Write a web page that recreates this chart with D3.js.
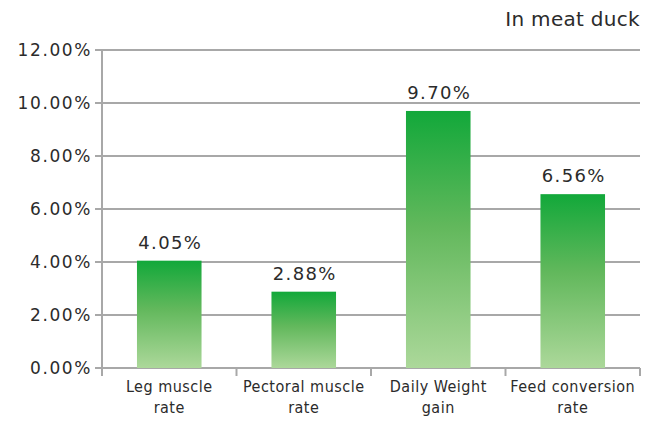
<!DOCTYPE html>
<html>
<head>
<meta charset="utf-8">
<script src="https://cdn.jsdelivr.net/npm/d3@7"></script>
<style>
    body { margin: 0; background: #fff; }
    .grid line { stroke: #a8a8a8; stroke-width: 2; }
    .tick-label { font-family: "DejaVu Sans", sans-serif; font-size: 17px; fill: #2b2b2b; letter-spacing: 1.6px; }
    .value-label { font-family: "DejaVu Sans", sans-serif; font-size: 18px; fill: #2b2b2b; letter-spacing: 1.4px; }
    .cat-label { font-family: "DejaVu Sans Condensed", "DejaVu Sans", sans-serif; font-size: 16px; fill: #2b2b2b; letter-spacing: 0.5px; }
    .title { font-family: "DejaVu Sans", sans-serif; font-size: 20px; fill: #2b2b2b; letter-spacing: 0.3px; }
</style>
</head>
<body>
<div id="chart"></div>
<script>
var categories = [["Leg muscle", "rate"], ["Pectoral muscle", "rate"], ["Daily Weight", "gain"], ["Feed conversion", "rate"]];
var values = [4.05, 2.88, 9.70, 6.56];
var yTicks = [0, 2, 4, 6, 8, 10, 12];

var width = 653, height = 421;
var margin = {top: 50, right: 13, bottom: 53, left: 102};
var w = width - margin.left - margin.right,
    h = height - margin.top - margin.bottom;

var svg = d3.select("#chart").append("svg")
    .attr("width", width)
    .attr("height", height);

var defs = svg.append("defs");
var grad = defs.append("linearGradient")
    .attr("id", "barGrad")
    .attr("x1", 0).attr("y1", 0).attr("x2", 0).attr("y2", 1);
grad.append("stop").attr("offset", "0%").attr("stop-color", "#12a83a");
grad.append("stop").attr("offset", "45%").attr("stop-color", "#62b85c");
grad.append("stop").attr("offset", "100%").attr("stop-color", "#acd89a");

var g = svg.append("g")
    .attr("transform", "translate(" + margin.left + "," + margin.top + ")");

var x = d3.scaleBand()
    .domain(d3.range(categories.length))
    .range([0, w])
    .paddingInner(0.52)
    .paddingOuter(0.26);

var y = d3.scaleLinear().domain([0, 12]).range([h, 0]);

// grid lines + tick marks
var grid = g.append("g").attr("class", "grid");
grid.selectAll("line")
    .data(yTicks)
    .enter().append("line")
    .attr("x1", -7)
    .attr("x2", w)
    .attr("y1", function (d) { return y(d); })
    .attr("y2", function (d) { return y(d); });

// y axis line
g.append("line")
    .attr("x1", 0).attr("x2", 0)
    .attr("y1", 0).attr("y2", h + 8)
    .attr("stroke", "#a8a8a8").attr("stroke-width", 2);

// x tick marks between categories
var step = w / categories.length;
g.selectAll(".xtick")
    .data(d3.range(categories.length + 1))
    .enter().append("line")
    .attr("class", "xtick")
    .attr("x1", function (d) { return d * step; })
    .attr("x2", function (d) { return d * step; })
    .attr("y1", h)
    .attr("y2", h + 8)
    .attr("stroke", "#a8a8a8").attr("stroke-width", 2);

g.selectAll(".tick-label")
    .data(yTicks)
    .enter().append("text")
    .attr("class", "tick-label")
    .attr("x", -10)
    .attr("y", function (d) { return y(d); })
    .attr("dy", "0.36em")
    .attr("text-anchor", "end")
    .text(function (d) { return d3.format(".2f")(d) + "%"; });

// bars
g.selectAll(".bar")
    .data(values)
    .enter().append("rect")
    .attr("class", "bar")
    .attr("x", function (d, i) { return x(i); })
    .attr("width", x.bandwidth())
    .attr("y", function (d) { return y(d); })
    .attr("height", function (d) { return h - y(d); })
    .attr("fill", "url(#barGrad)");

g.selectAll(".value-label")
    .data(values)
    .enter().append("text")
    .attr("class", "value-label")
    .attr("x", function (d, i) { return x(i) + x.bandwidth() / 2 + 1; })
    .attr("y", function (d) { return y(d) - 12; })
    .attr("text-anchor", "middle")
    .text(function (d) { return d3.format(".2f")(d) + "%"; });

var cat = g.selectAll(".cat-label")
    .data(categories)
    .enter().append("text")
    .attr("class", "cat-label")
    .attr("text-anchor", "middle")
    .attr("x", function (d, i) { return x(i) + x.bandwidth() / 2; })
    .attr("y", h + 24);
cat.selectAll("tspan")
    .data(function (d) { return d; })
    .enter().append("tspan")
    .attr("x", function () { return d3.select(this.parentNode).attr("x"); })
    .attr("dy", function (d, i) { return i === 0 ? 0 : 21; })
    .text(function (d) { return d; });

svg.append("text")
    .attr("class", "title")
    .attr("x", 640)
    .attr("y", 26)
    .attr("text-anchor", "end")
    .text("In meat duck");
</script>
</body>
</html>
